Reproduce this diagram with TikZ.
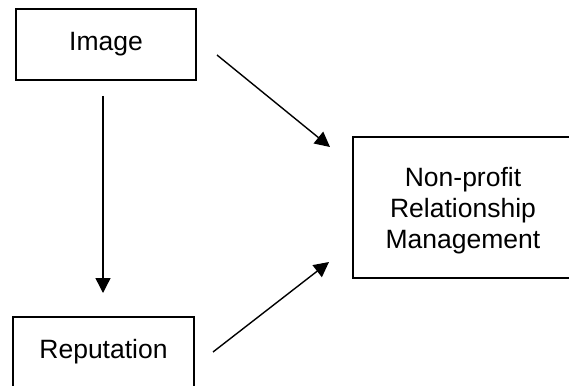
\documentclass[tikz,border=0pt]{standalone}
\usepackage{fontspec}
\setmainfont{Liberation Sans}
\usetikzlibrary{arrows.meta}
\begin{document}
\begin{tikzpicture}[x=1pt,y=-1pt,
  box/.style={draw=black,line width=1.9pt,inner sep=0pt,align=center},
  lbl/.style={inner sep=0pt,align=center,font=\fontsize{26.5}{31}\selectfont},
  arr/.style={line width=1.4pt,-{Triangle[length=15pt,width=15pt]}}]
\clip (0,0) rectangle (569,385);
\fill[white] (0,0) rectangle (569,385);
\node[box,minimum width=180pt,minimum height=71pt] (img) at (106,44.5) {};
\node[lbl] (imgt) at (106,44) {Image};
\node[box,minimum width=181pt,minimum height=80pt] (rep) at (103.5,357) {};
\node[lbl] (rept) at (103.5,352) {Reputation};
\node[box,minimum width=222pt,minimum height=141pt] (nrm) at (464,207.5) {};
\node[lbl] (nrmt) at (463,211) {Non-profit\\Relationship\\Management};
\coordinate (a1s) at (217,55);
\coordinate (a1e) at (330,147);
\coordinate (a2s) at (213,352);
\coordinate (a2e) at (329,262);
\coordinate (a3s) at (103,96);
\coordinate (a3e) at (103,293);
\draw[arr] (a1s) -- (a1e);
\draw[arr] (a2s) -- (a2e);
\draw[arr] (a3s) -- (a3e);
\end{tikzpicture}
\end{document}
